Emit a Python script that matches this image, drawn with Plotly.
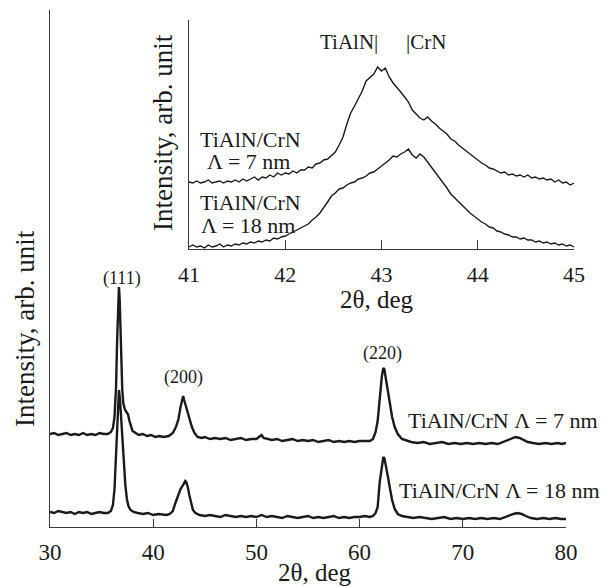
import plotly.graph_objects as go

# ---------------- main pattern data (2theta, intensity arb.) ----------------
main_7nm_x = [30.0, 30.4, 30.8, 31.2, 31.6, 32.0, 32.4, 32.8, 33.2, 33.6, 34.0, 34.4, 34.8, 35.2, 35.6,
              35.9, 36.1, 36.25, 36.4, 36.5, 36.6, 36.68, 36.75, 36.82, 36.9, 37.0, 37.1, 37.25, 37.4,
              37.55, 37.7, 37.85, 38.0, 38.3, 38.6, 39.0, 39.4, 39.8, 40.2, 40.6,
              41.0, 41.5, 41.9, 42.2, 42.45, 42.65, 42.8, 42.9, 43.0, 43.15, 43.3, 43.5, 43.75, 44.0, 44.3, 44.7,
              45.0, 45.5, 46.0, 46.5, 47.0, 47.5, 48.0, 48.5, 49.0, 49.5, 50.0, 50.3, 50.5, 50.7, 51.0,
              51.5, 52.0, 52.5, 53.0, 53.5, 54.0, 54.5, 55.0, 55.5, 56.0, 56.5, 57.0, 57.5, 58.0, 58.5,
              59.0, 59.5, 60.0, 60.5,
              61.0, 61.3, 61.55, 61.75, 61.95, 62.15, 62.3, 62.4, 62.55, 62.75, 62.95, 63.15, 63.4, 63.7, 64.1, 64.6,
              65.0, 65.6, 66.2, 66.8, 67.4, 68.0, 68.6, 69.2, 69.8, 70.4, 71.0, 71.6, 72.2, 72.8, 73.4,
              73.9, 74.3, 74.7, 75.1, 75.5, 75.9, 76.3, 76.8, 77.4, 78.0, 78.6, 79.2, 79.6, 80.0]
main_7nm_y = [93, 94, 92, 93, 94, 92, 93, 92, 94, 92, 93, 92, 94, 93, 93,
              95, 99, 110, 140, 185, 225, 240, 228, 200, 165, 138, 124, 118, 115,
              113, 106, 100, 96, 94, 92, 93, 91, 92, 90, 91,
              90, 91, 94, 100, 108, 120, 129, 131, 127, 122, 117, 108, 100, 94, 90, 89,
              90, 88, 89, 88, 89, 87, 88, 89, 87, 88, 88, 90, 92, 89, 88,
              87, 88, 86, 87, 88, 86, 87, 86, 87, 85, 86, 87, 85, 86, 85,
              86, 85, 86, 86,
              86, 88, 95, 106, 130, 150, 159, 158, 148, 135, 120, 110, 100, 93, 88, 86,
              85, 84, 85, 83, 84, 85, 83, 84, 83, 84, 83, 84, 83, 84, 83,
              85, 87, 89, 90, 89, 87, 85, 84, 83, 84, 83, 84, 83, 84]

main_18nm_x = [30.0, 30.4, 30.8, 31.2, 31.6, 32.0, 32.4, 32.8, 33.2, 33.6, 34.0, 34.4, 34.8, 35.2, 35.6,
               35.9, 36.1, 36.25, 36.4, 36.5, 36.6, 36.68, 36.78, 36.9, 37.0, 37.15, 37.3, 37.45, 37.6,
               37.8, 38.1, 38.5, 39.0, 39.5, 40.0, 40.5, 41.0,
               41.3, 41.6, 41.9, 42.15, 42.4, 42.65, 42.9, 43.1, 43.2, 43.35, 43.5, 43.65, 43.85, 44.1, 44.5,
               45.0, 45.5, 46.0, 46.5, 47.0, 47.5, 48.0, 48.5, 49.0, 49.5, 50.0, 50.5, 51.0, 51.5, 52.0,
               52.5, 53.0, 53.5, 54.0, 54.5, 55.0, 55.5, 56.0, 56.5, 57.0, 57.5, 58.0, 58.5, 59.0, 59.5,
               60.0, 60.5,
               61.0, 61.3, 61.55, 61.75, 61.95, 62.15, 62.3, 62.4, 62.55, 62.75, 62.95, 63.15, 63.4, 63.7, 64.1,
               64.6, 65.2, 65.8, 66.4, 67.0, 67.6, 68.2, 68.8, 69.4, 70.0, 70.6, 71.2, 71.8, 72.4, 73.0,
               73.6, 74.1, 74.5, 74.9, 75.3, 75.7, 76.1, 76.6, 77.2, 77.8, 78.4, 79.0, 79.5, 80.0]
main_18nm_y = [15, 14, 16, 15, 14, 15, 13, 15, 14, 15, 13, 14, 15, 14, 14,
               16, 22, 38, 70, 100, 128, 137, 128, 108, 88, 62, 42, 28, 21,
               17, 15, 14, 13, 14, 12, 13, 12,
               12, 13, 16, 24, 32, 38, 42, 46, 45, 40, 32, 24, 17, 14, 12,
               11, 12, 11, 10, 12, 11, 10, 11, 10, 11, 10, 12, 10, 11, 10,
               9, 11, 10, 9, 10, 11, 9, 10, 9, 10, 11, 9, 10, 9, 10,
               10, 11,
               10, 11, 14, 20, 45, 63, 70, 69, 62, 50, 38, 27, 18, 13, 11,
               10, 9, 10, 9, 8, 9, 10, 8, 9, 8, 9, 8, 9, 8, 9,
               8, 10, 12, 13, 14, 13, 11, 9, 8, 9, 8, 9, 8, 8]

# ---------------- inset data (41-45 deg, step 0.04) ----------------
inset_x = [round(41.0 + 0.04 * i, 2) for i in range(101)]
inset_7nm = [67, 66, 68, 66, 67, 69, 66, 67, 68, 66, 68, 67, 69, 67, 70, 68, 70, 72, 69, 72,
             71, 74, 72, 76, 74, 76, 75, 78, 76, 79, 79, 82, 81, 85, 86, 89, 90, 94, 97, 104,
             112, 125, 136, 143, 150, 158, 168, 172, 175, 182, 178, 181, 172, 166, 162, 157, 152, 147, 139, 135,
             131, 129, 132, 128, 125, 121, 118, 115, 110, 108, 104, 101, 98, 95, 92, 89, 86, 84, 81, 80,
             78, 76, 77, 74, 75, 73, 74, 72, 74, 71, 72, 70, 71, 69, 70, 67, 69, 66, 67, 64, 66]
inset_18nm = [2, 4, 2, 3, 1, 4, 2, 3, 5, 2, 4, 3, 5, 4, 6, 5, 7, 6, 8, 7,
              9, 8, 11, 10, 12, 13, 15, 17, 19, 21, 23, 25, 29, 32, 36, 41, 47, 53, 56, 60,
              61, 64, 66, 67, 70, 71, 73, 76, 77, 80, 83, 86, 89, 93, 92, 95, 97, 100, 94, 91,
              95, 92, 87, 82, 77, 72, 66, 61, 55, 51, 47, 43, 40, 36, 33, 30, 27, 25, 22, 21,
              18, 17, 15, 14, 12, 12, 10, 11, 9, 9, 7, 8, 6, 7, 5, 6, 4, 5, 3, 4, 2]

main_ticks = [30, 40, 50, 60, 70, 80]
inset_ticks = [41, 42, 43, 44, 45]

W, H = 601, 586
FONT = "Liberation Serif, Times New Roman, serif"
INK = "#1a1a1a"
AX = "#3a3a3a"


def px(x):
    return x / W


def py(y):
    return 1 - y / H


fig = go.Figure()
fig.add_trace(go.Scatter(x=main_7nm_x, y=main_7nm_y, mode="lines",
                         line=dict(color=INK, width=2.4), xaxis="x", yaxis="y"))
fig.add_trace(go.Scatter(x=main_18nm_x, y=main_18nm_y, mode="lines",
                         line=dict(color=INK, width=2.4), xaxis="x", yaxis="y"))
fig.add_trace(go.Scatter(x=inset_x, y=inset_7nm, mode="lines",
                         line=dict(color=INK, width=1.4), xaxis="x2", yaxis="y2"))
fig.add_trace(go.Scatter(x=inset_x, y=inset_18nm, mode="lines",
                         line=dict(color=INK, width=1.4), xaxis="x2", yaxis="y2"))

axis_common = dict(showgrid=False, zeroline=False, showline=True, linecolor=AX, linewidth=1.3,
                   mirror=False, automargin=False)

fig.update_layout(
    width=W, height=H,
    margin=dict(l=0, r=0, t=0, b=0),
    paper_bgcolor="white", plot_bgcolor="white",
    showlegend=False,
    font=dict(family=FONT, color=INK),
    xaxis=dict(domain=[px(50), px(566)], range=[30, 80], tickvals=main_ticks,
               ticks="inside", ticklen=8, tickwidth=1.2, tickcolor=AX,
               tickfont=dict(size=23, family=FONT, color=INK), ticklabelstandoff=4,
               anchor="y", **axis_common),
    yaxis=dict(domain=[py(527), py(10)], range=[0, 517], showticklabels=False, ticks="",
               anchor="x", **axis_common),
    xaxis2=dict(domain=[px(189), px(574)], range=[41, 45], tickvals=inset_ticks,
                ticks="inside", ticklen=9, tickwidth=1.2, tickcolor=AX,
                tickfont=dict(size=22, family=FONT, color=INK), ticklabelstandoff=5,
                anchor="y2", **axis_common),
    yaxis2=dict(domain=[py(249), py(20)], range=[0, 229], showticklabels=False, ticks="",
                anchor="x2", **axis_common),
)


def label(text, x, y, size, xanchor="left", angle=0):
    fig.add_annotation(text=text, x=px(x), y=py(y), xref="paper", yref="paper",
                       xanchor=xanchor, yanchor="middle", showarrow=False, textangle=angle,
                       font=dict(size=size, family=FONT, color=INK))


# axis titles
label("Intensity, arb. unit", 25, 329, 27, "center", -90)
label("2θ, deg", 315, 572, 25, "center")
label("Intensity, arb. unit", 163, 133, 27, "center", -90)
label("2θ, deg", 377, 299, 25, "center")

# peak indices
label("(111)", 122, 278, 18, "center")
label("(200)", 183, 377, 18, "center")
label("(220)", 382, 353, 18, "center")

# curve labels, main
label("TiAlN/CrN Λ = 7 nm", 406, 420, 22)
label("TiAlN/CrN Λ = 18 nm", 397, 490, 22)

# inset labels
label("TiAlN/CrN", 198, 139, 22)
label("Λ = 7 nm", 205, 161, 22)
label("TiAlN/CrN", 198, 202, 22)
label("Λ = 18 nm", 199, 226, 22)
label("TiAlN|", 380, 42, 21, "right")
label("|CrN", 404, 42, 21)

fig.write_html("out.html")
